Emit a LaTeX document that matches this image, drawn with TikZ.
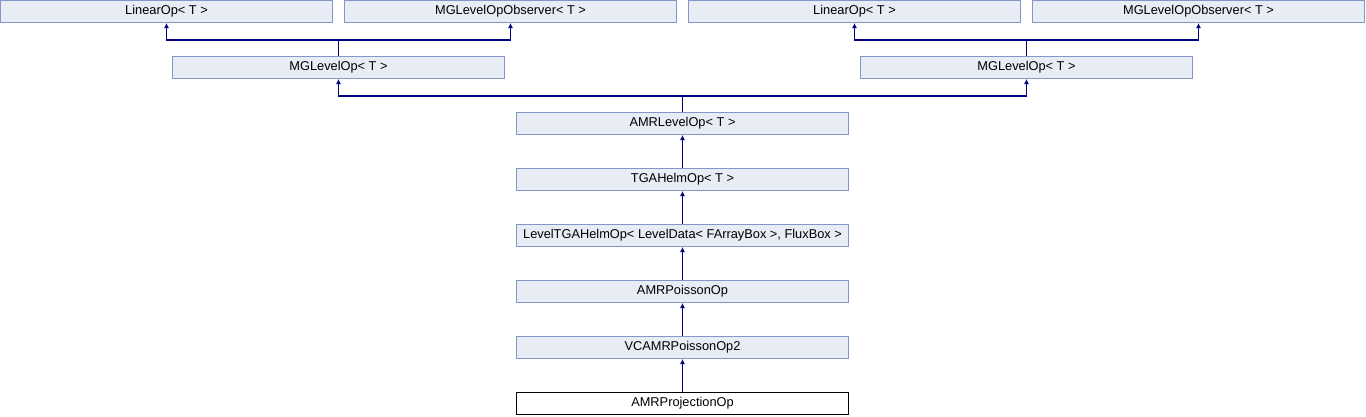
\documentclass[tikz,border=0pt]{standalone}
\usepackage{fontspec}
\setmainfont{Liberation Sans}
\usepackage{tikz}
\usetikzlibrary{arrows.meta}

\definecolor{boxfill}{HTML}{E8ECF4}
\definecolor{boxline}{HTML}{8496C8}
\definecolor{edgeblue}{HTML}{000080}

\tikzset{
  cls/.style={rectangle, draw=boxline, fill=boxfill, line width=1pt,
    minimum width=332pt, minimum height=22pt, inner sep=0pt,
    font=\fontsize{12.8}{14}\selectfont},
  leaf/.style={cls, draw=black, fill=white},
  inh/.style={draw=edgeblue, line width=1.2pt,
    -{Latex[length=5pt,width=5pt]}}
}

\begin{document}
\begin{tikzpicture}[x=1pt, y=-1pt]
  \useasboundingbox (0,0) rectangle (1366,416);

  % top row
  \node[cls] (lin1) at (166.5,11.5) {LinearOp< T >};
  \node[cls] (obs1) at (510.5,11.5) {MGLevelOpObserver< T >};
  \node[cls] (lin2) at (854.5,11.5) {LinearOp< T >};
  \node[cls] (obs2) at (1198.5,11.5) {MGLevelOpObserver< T >};

  % MGLevelOp twice
  \node[cls] (mgl1) at (338.5,67.5) {MGLevelOp< T >};
  \node[cls] (mgl2) at (1026.5,67.5) {MGLevelOp< T >};

  % main chain
  \node[cls] (amrl) at (682.5,123.5) {AMRLevelOp< T >};
  \node[cls] (tga) at (682.5,179.5) {TGAHelmOp< T >};
  \node[cls] (ltga) at (682.5,235.5) {LevelTGAHelmOp< LevelData< FArrayBox >, FluxBox >};
  \node[cls] (pois) at (682.5,291.5) {AMRPoissonOp};
  \node[cls] (vc) at (682.5,347.5) {VCAMRPoissonOp2};
  \node[leaf] (proj) at (682.5,403.5) {AMRProjectionOp};

  % inheritance
  \draw[inh] (mgl1.north) -- ++(0,-16) -| (lin1.south);
  \draw[inh] (mgl1.north) -- ++(0,-16) -| (obs1.south);
  \draw[inh] (mgl2.north) -- ++(0,-16) -| (lin2.south);
  \draw[inh] (mgl2.north) -- ++(0,-16) -| (obs2.south);
  \draw[inh] (amrl.north) -- ++(0,-16) -| (mgl1.south);
  \draw[inh] (amrl.north) -- ++(0,-16) -| (mgl2.south);
  \draw[inh] (tga) -- (amrl);
  \draw[inh] (ltga) -- (tga);
  \draw[inh] (pois) -- (ltga);
  \draw[inh] (vc) -- (pois);
  \draw[inh] (proj) -- (vc);
\end{tikzpicture}
\end{document}
